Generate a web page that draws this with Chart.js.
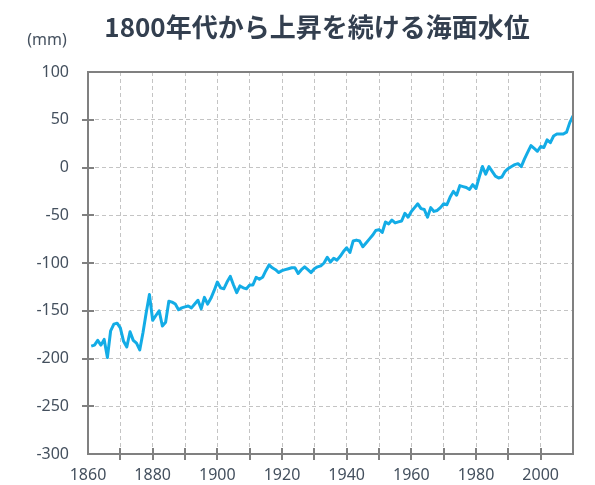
<!DOCTYPE html>
<html>
<head>
<meta charset="utf-8">
<script src="https://cdn.jsdelivr.net/npm/chart.js@4/dist/chart.umd.min.js"></script>
<style>
  body { margin: 0; background: #fff; }
  #wrap { position: relative; width: 595px; height: 485px; }
  #title {
    position: absolute; left: 0; top: 13px; width: 634px; text-align: center;
    font: bold 26px "Noto Sans CJK JP", sans-serif; line-height: 26px;
    color: #333f4f; white-space: nowrap;
  }
  #unit {
    position: absolute; left: 0; top: 31px; width: 94px; text-align: center;
    font: 16px "Noto Sans", sans-serif; line-height: 16px; color: #44505e;
  }
</style>
</head>
<body>
<div id="wrap">
  <canvas id="seaChart" width="595" height="485"></canvas>
  <div id="title">1800年代から上昇を続ける海面水位</div>
  <div id="unit">(mm)</div>
</div>
<script>
// ---- data (mm, relative level) ----
const years = [
  1861, 1862, 1863, 1864, 1865, 1866, 1867, 1868, 1869, 1870,
  1871, 1872, 1873, 1874, 1875, 1876, 1877, 1878, 1879, 1880,
  1881, 1882, 1883, 1884, 1885, 1886, 1887, 1888, 1889, 1890,
  1891, 1892, 1893, 1894, 1895, 1896, 1897, 1898, 1899, 1900,
  1901, 1902, 1903, 1904, 1905, 1906, 1907, 1908, 1909, 1910,
  1911, 1912, 1913, 1914, 1915, 1916, 1917, 1918, 1919, 1920,
  1921, 1922, 1923, 1924, 1925, 1926, 1927, 1928, 1929, 1930,
  1931, 1932, 1933, 1934, 1935, 1936, 1937, 1938, 1939, 1940,
  1941, 1942, 1943, 1944, 1945, 1946, 1947, 1948, 1949, 1950,
  1951, 1952, 1953, 1954, 1955, 1956, 1957, 1958, 1959, 1960,
  1961, 1962, 1963, 1964, 1965, 1966, 1967, 1968, 1969, 1970,
  1971, 1972, 1973, 1974, 1975, 1976, 1977, 1978, 1979, 1980,
  1981, 1982, 1983, 1984, 1985, 1986, 1987, 1988, 1989, 1990,
  1991, 1992, 1993, 1994, 1995, 1996, 1997, 1998, 1999, 2000,
  2001, 2002, 2003, 2004, 2005, 2006, 2007, 2008, 2009, 2010
];

const seaLevel = [
  -187, -186, -181, -186, -180, -199, -171, -164, -163, -168,
  -182, -188, -172, -181, -184, -191, -173, -152, -133, -160,
  -155, -150, -166, -162, -140, -141, -143, -149, -147, -146,
  -145, -147, -143, -139, -148, -136, -143, -137, -129, -120,
  -126, -127, -120, -114, -123, -131, -124, -126, -127, -123,
  -123, -115, -117, -115, -108, -102, -105, -107, -110, -108,
  -107, -106, -105, -105, -111, -107, -104, -107, -110, -106,
  -104, -103, -100, -94, -99, -95, -97, -93, -88, -84,
  -89, -77, -76, -77, -83, -79, -75, -71, -66, -65,
  -68, -57, -59, -55, -58, -57, -56, -48, -52, -46,
  -42, -38, -43, -44, -52, -42, -46, -45, -42, -38,
  -39, -31, -25, -29, -19, -20, -21, -23, -18, -22,
  -10, 1, -7, 1, -4, -9, -11, -10, -4, -1,
  1, 3, 4, 1, 9, 16, 23, 20, 17, 22,
  21, 29, 26, 33, 35, 35, 35, 37, 47, 54
];

const yTicks = [-300, -250, -200, -150, -100, -50, 0, 50, 100];
const xTicks = [1860, 1870, 1880, 1890, 1900, 1910, 1920, 1930, 1940, 1950, 1960, 1970, 1980, 1990, 2000, 2010];
const xLabels = [1860, 1880, 1900, 1920, 1940, 1960, 1980, 2000];

// ---- frame + cross tick marks ----
const framePlugin = {
    id: 'frame',
    afterDraw(chart) {
        const ctx = chart.ctx;
        const a = chart.chartArea;
        const xs = chart.scales.x;
        const ys = chart.scales.y;
        ctx.save();
        ctx.strokeStyle = '#808080';
        ctx.lineWidth = 2;
        ctx.strokeRect(a.left, a.top, a.right - a.left, a.bottom - a.top);
        ctx.beginPath();
        yTicks.slice(1, -1).forEach(v => {
            const y = Math.round(ys.getPixelForValue(v));
            ctx.moveTo(a.left - 6, y);
            ctx.lineTo(a.left + 6, y);
        });
        xTicks.slice(1, -1).forEach(v => {
            const x = Math.round(xs.getPixelForValue(v));
            ctx.moveTo(x, a.bottom - 6);
            ctx.lineTo(x, a.bottom + 6);
        });
        ctx.stroke();
        ctx.restore();
    }
};

const tickFont = { family: '"Noto Sans", sans-serif', size: 16 };
const tickColor = '#44505e';

new Chart(document.getElementById('seaChart'), {
    type: 'line',
    data: {
        datasets: [{
            data: years.map((yr, i) => ({ x: yr, y: seaLevel[i] })),
            borderColor: '#13ace6',
            borderWidth: 3,
            borderJoinStyle: 'round',
            pointRadius: 0,
            tension: 0,
            fill: false
        }]
    },
    options: {
        responsive: false,
        animation: false,
        layout: { padding: { top: 72, right: 22, left: 28, bottom: 0 } },
        plugins: {
            legend: { display: false },
            tooltip: { enabled: false }
        },
        scales: {
            x: {
                type: 'linear',
                min: 1860,
                max: 2010,
                afterBuildTicks: (s) => { s.ticks = xTicks.map(v => ({ value: v })); },
                afterFit: (s) => { s.height = 31; },
                grid: { color: '#c4c4c4', lineWidth: 1, drawTicks: false },
                border: { display: false, dash: [4, 3] },
                ticks: {
                    font: tickFont,
                    color: tickColor,
                    padding: 12,
                    maxRotation: 0,
                    autoSkip: false,
                    callback: (v) => xLabels.includes(v) ? String(v) : ''
                }
            },
            y: {
                min: -300,
                max: 100,
                afterBuildTicks: (s) => { s.ticks = yTicks.map(v => ({ value: v })); },
                afterFit: (s) => { s.width = 60; },
                grid: { color: '#c4c4c4', lineWidth: 1, drawTicks: false },
                border: { display: false, dash: [4, 3] },
                ticks: {
                    font: tickFont,
                    color: tickColor,
                    padding: 19,
                    callback: (v) => String(v)
                }
            }
        }
    },
    plugins: [framePlugin]
});
</script>
</body>
</html>
